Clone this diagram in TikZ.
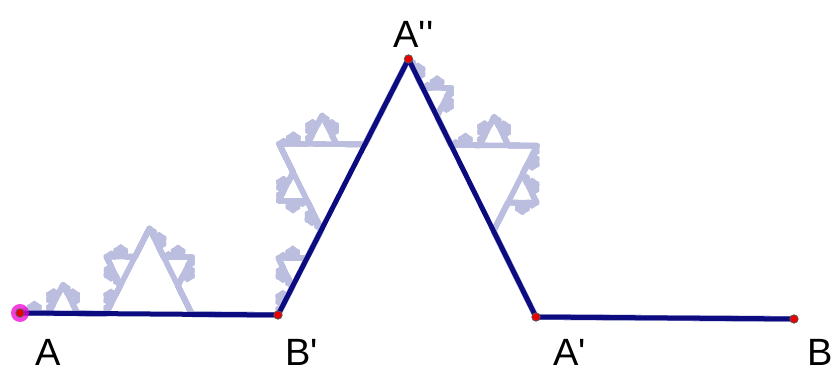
\documentclass[tikz,border=0pt]{standalone}
\usepackage{fontspec}
\newfontfamily\lblfont[Ligatures=TeXOff]{Liberation Sans}
\usepackage{tikz}
\definecolor{kochCol}{RGB}{12,12,128}
\definecolor{paleCol}{RGB}{188,190,224}
\definecolor{dotCol}{RGB}{235,0,0}
\definecolor{haloCol}{RGB}{240,0,210}

% one piece of the pale curve: level, x1, y1, x2, y2
% first three pieces recurse, the last one stays straight
\newcommand\kochpiece[5]{%
  \ifnum#1=0
    \xdef\kochpath{\kochpath -- (#4,#5)}%
  \else
    \pgfmathsetmacro\kax{#2+(#4-#2)/3}%
    \pgfmathsetmacro\kay{#3+(#5-#3)/3}%
    \pgfmathsetmacro\kbx{#2+2*(#4-#2)/3}%
    \pgfmathsetmacro\kby{#3+2*(#5-#3)/3}%
    \pgfmathsetmacro\kcx{(#2+#4)/2-(#5-#3)*0.288675}%
    \pgfmathsetmacro\kcy{(#3+#5)/2+(#4-#2)*0.288675}%
    \edef\kochnext{%
      \noexpand\kochpiece{\the\numexpr#1-1\relax}{#2}{#3}{\kax}{\kay}%
      \noexpand\kochpiece{\the\numexpr#1-1\relax}{\kax}{\kay}{\kcx}{\kcy}%
      \noexpand\kochpiece{\the\numexpr#1-1\relax}{\kcx}{\kcy}{\kbx}{\kby}%
      \noexpand\xdef\noexpand\kochpath{\noexpand\kochpath -- (#4,#5)}}%
    \kochnext
  \fi}

\begin{document}
\begin{tikzpicture}[
    x=0.5pt, y=0.575pt,
    pale/.style={draw=paleCol, line width=2.8pt, line join=round, line cap=round},
    koch/.style={draw=kochCol, line width=2.5pt, line join=round},
    pt/.style={circle, fill=dotCol, draw=black!65, line width=0.4pt,
      inner sep=0pt, minimum size=4.2pt},
    halo/.style={circle, fill=haloCol, fill opacity=0.75, inner sep=0pt, minimum size=9pt},
    lbl/.style={font=\lblfont\fontsize{19}{22}\selectfont, inner sep=0pt, anchor=base west},
  ]
\useasboundingbox (0,0) rectangle (836,322.6);

% points of the first step
\coordinate (A) at (20,50.43);
\coordinate (Bp) at (278.0,48.69);
\coordinate (App) at (408.5,271.3);
\coordinate (Ap) at (536.0,46.96);
\coordinate (B) at (794,45.22);

% pale steps behind, one over the other
\foreach \lev in {2,...,6}{
  \xdef\kochpath{(20,50.43)}
  \kochpiece{\lev}{20}{50.43}{794}{45.22}
  \draw[pale] \kochpath;
}

% first step
\draw[koch] (A) -- (Bp) -- (App) -- (Ap) -- (B);

\node[halo] (hA) at (A) {};
\node[pt] (dA) at (A) {};
\node[pt] (dBp) at (Bp) {};
\node[pt] (dApp) at (App) {};
\node[pt] (dAp) at (Ap) {};
\node[pt] (dB) at (B) {};

% labels
\node[lbl] (lA) at (35,5) {A};
\node[lbl] (lBp) at (285,5) {B'};
\node[lbl] (lApp) at (393,280.9) {A''};
\node[lbl] (lAp) at (553,5) {A'};
\node[lbl] (lB) at (807,5) {B};
\end{tikzpicture}
\end{document}
